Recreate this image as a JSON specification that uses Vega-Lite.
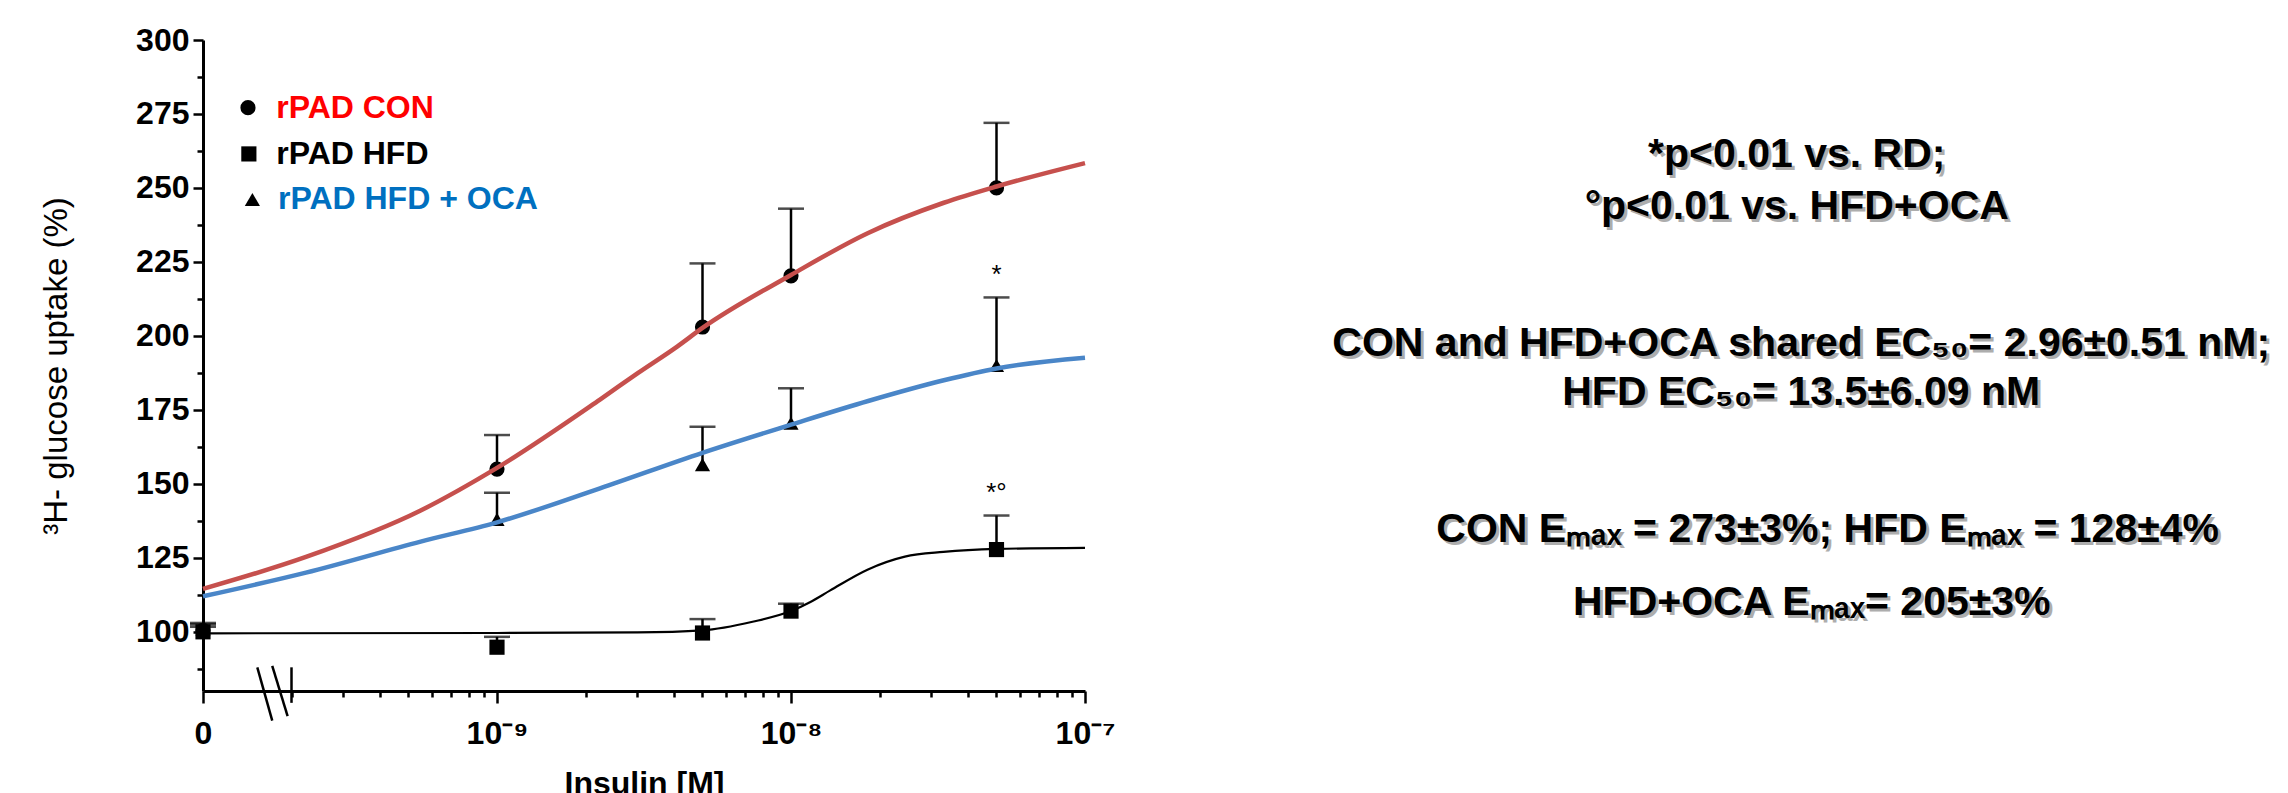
{
  "$schema": "https://vega.github.io/schema/vega-lite/v6.json",
  "width": 882,
  "height": 651,
  "autosize": {"type": "none"},
  "padding": {"left": 203, "top": 40, "right": 1203, "bottom": 102},
  "background": "white",
  "config": {"view": {"stroke": null}, "font": "Liberation Sans"},
  "datasets": {
    "points": [
      {"group": "rPAD CON", "conc": 1e-10, "mean": 100.5, "upper": 103},
      {"group": "rPAD CON", "conc": 1e-9, "mean": 155, "upper": 166.5},
      {"group": "rPAD CON", "conc": 5e-9, "mean": 203, "upper": 224.5},
      {"group": "rPAD CON", "conc": 1e-8, "mean": 220.3, "upper": 243},
      {"group": "rPAD CON", "conc": 5e-8, "mean": 250, "upper": 272},
      {"group": "rPAD HFD", "conc": 1e-10, "mean": 100, "upper": 101.7},
      {"group": "rPAD HFD", "conc": 1e-9, "mean": 94.8, "upper": 98.3},
      {"group": "rPAD HFD", "conc": 5e-9, "mean": 99.6, "upper": 104.3},
      {"group": "rPAD HFD", "conc": 1e-8, "mean": 107, "upper": 109.5},
      {"group": "rPAD HFD", "conc": 5e-8, "mean": 127.8, "upper": 139.3},
      {"group": "rPAD HFD + OCA", "conc": 1e-10, "mean": 101, "upper": 102.5},
      {"group": "rPAD HFD + OCA", "conc": 1e-9, "mean": 138, "upper": 147},
      {"group": "rPAD HFD + OCA", "conc": 5e-9, "mean": 156.5, "upper": 169.3},
      {"group": "rPAD HFD + OCA", "conc": 1e-8, "mean": 170.5, "upper": 182.3},
      {"group": "rPAD HFD + OCA", "conc": 5e-8, "mean": 190, "upper": 213}
    ],
    "curves": [
      {"group": "rPAD CON", "conc": 1e-10, "value": 114.5},
      {"group": "rPAD CON", "conc": 2.24e-10, "value": 125.3},
      {"group": "rPAD CON", "conc": 5.5e-10, "value": 141},
      {"group": "rPAD CON", "conc": 1e-9, "value": 155.4},
      {"group": "rPAD CON", "conc": 2.24e-9, "value": 178.5},
      {"group": "rPAD CON", "conc": 3.02e-9, "value": 187.5},
      {"group": "rPAD CON", "conc": 4.1e-9, "value": 196.4},
      {"group": "rPAD CON", "conc": 5e-9, "value": 202.7},
      {"group": "rPAD CON", "conc": 1e-8, "value": 220.6},
      {"group": "rPAD CON", "conc": 1.83e-8, "value": 234.8},
      {"group": "rPAD CON", "conc": 3.31e-8, "value": 245},
      {"group": "rPAD CON", "conc": 5e-8, "value": 250.5},
      {"group": "rPAD CON", "conc": 1e-7, "value": 258.4},
      {"group": "rPAD HFD + OCA", "conc": 1e-10, "value": 112},
      {"group": "rPAD HFD + OCA", "conc": 2.24e-10, "value": 120},
      {"group": "rPAD HFD + OCA", "conc": 5.5e-10, "value": 130.5},
      {"group": "rPAD HFD + OCA", "conc": 1e-9, "value": 137},
      {"group": "rPAD HFD + OCA", "conc": 2.24e-9, "value": 148.5},
      {"group": "rPAD HFD + OCA", "conc": 5e-9, "value": 160.5},
      {"group": "rPAD HFD + OCA", "conc": 1e-8, "value": 170},
      {"group": "rPAD HFD + OCA", "conc": 1.83e-8, "value": 178},
      {"group": "rPAD HFD + OCA", "conc": 3.31e-8, "value": 185},
      {"group": "rPAD HFD + OCA", "conc": 5e-8, "value": 189},
      {"group": "rPAD HFD + OCA", "conc": 1e-7, "value": 192.6},
      {"group": "rPAD HFD", "conc": 1e-10, "value": 99.5},
      {"group": "rPAD HFD", "conc": 1e-9, "value": 99.6},
      {"group": "rPAD HFD", "conc": 3e-9, "value": 99.8},
      {"group": "rPAD HFD", "conc": 5e-9, "value": 100.5},
      {"group": "rPAD HFD", "conc": 7.4e-9, "value": 103.4},
      {"group": "rPAD HFD", "conc": 1e-8, "value": 107},
      {"group": "rPAD HFD", "conc": 1.16e-8, "value": 110},
      {"group": "rPAD HFD", "conc": 1.36e-8, "value": 114},
      {"group": "rPAD HFD", "conc": 1.82e-8, "value": 121},
      {"group": "rPAD HFD", "conc": 2.44e-8, "value": 125.4},
      {"group": "rPAD HFD", "conc": 3.3e-8, "value": 127},
      {"group": "rPAD HFD", "conc": 5e-8, "value": 128},
      {"group": "rPAD HFD", "conc": 1e-7, "value": 128.4}
    ],
    "stars": [
      {"conc": 5e-8, "value": 220.5, "label": "*"},
      {"conc": 5e-8, "value": 147, "label": "*°"}
    ],
    "breaks": [
      {"conc": 1.53e-10, "conc2": 1.72e-10, "value": 88, "value2": 70},
      {"conc": 1.72e-10, "conc2": 1.94e-10, "value": 88.5, "value2": 71.5},
      {"conc": 2e-10, "conc2": 2e-10, "value": 88, "value2": 76}
    ],
    "legend": [
      {"group": "rPAD CON", "sx": 0.051, "lx": 0.083, "ty": 0.896},
      {"group": "rPAD HFD", "sx": 0.052, "lx": 0.083, "ty": 0.825},
      {"group": "rPAD HFD + OCA", "sx": 0.056, "lx": 0.085, "ty": 0.755}
    ],
    "notes": [
      {"text": "*p<0.01 vs. RD;", "tx": 1.807, "ty": 0.823},
      {"text": "°p<0.01 vs. HFD+OCA", "tx": 1.807, "ty": 0.743},
      {"text": "CON and HFD+OCA shared EC₅₀= 2.96±0.51 nM;", "tx": 1.812, "ty": 0.533},
      {"text": "HFD EC₅₀= 13.5±6.09 nM", "tx": 1.812, "ty": 0.458},
      {"text": "CON Eₘₐₓ = 273±3%; HFD Eₘₐₓ = 128±4%", "tx": 1.842, "ty": 0.247},
      {"text": "HFD+OCA Eₘₐₓ= 205±3%", "tx": 1.824, "ty": 0.135}
    ]
  },
  "resolve": {"scale": {"x": "independent", "y": "independent", "color": "independent", "shape": "independent"}},
  "layer": [
    {
      "layer": [
        {
          "data": {"name": "points"},
          "mark": {"type": "rule", "color": "black", "strokeWidth": 2.5},
          "encoding": {
            "x": {
              "field": "conc", "type": "quantitative",
              "scale": {"type": "log", "domain": [1e-10, 1e-7], "nice": false},
              "axis": {
                "title": "Insulin [M]",
                "values": [1e-10, 2e-10, 3e-10, 4e-10, 5e-10, 6e-10, 7e-10, 8e-10, 9e-10, 1e-9, 2e-9, 3e-9, 4e-9, 5e-9, 6e-9, 7e-9, 8e-9, 9e-9, 1e-8, 2e-8, 3e-8, 4e-8, 5e-8, 6e-8, 7e-8, 8e-8, 9e-8, 1e-7],
                "labelExpr": "datum.value < 1.5e-10 ? '0' : (abs(log(datum.value)/LN10 - round(log(datum.value)/LN10)) < 0.01 ? (round(log(datum.value)/LN10) == -9 ? '10⁻⁹' : (round(log(datum.value)/LN10) == -8 ? '10⁻⁸' : '10⁻⁷')) : '')",
                "tickSize": {"condition": {"test": "abs(log(datum.value)/LN10 - round(log(datum.value)/LN10)) < 0.01", "value": 12}, "value": 6},
                "grid": false,
                "domainColor": "black", "domainWidth": 3,
                "tickColor": "black", "tickWidth": 2.5,
                "labelFont": "Liberation Sans", "labelFontSize": 32, "labelFontWeight": "bold", "labelColor": "black",
                "labelPadding": 15, "labelOverlap": false, "labelFlush": false,
                "titleFont": "Liberation Sans", "titleFontSize": 32, "titleFontWeight": "bold", "titleColor": "black",
                "titlePadding": 19
              }
            },
            "y": {
              "field": "mean", "type": "quantitative",
              "scale": {"domain": [80, 300], "nice": false, "zero": false},
              "axis": {
                "title": "³H- glucose uptake (%)",
                "orient": "left",
                "values": [100, 125, 150, 175, 200, 225, 250, 275, 300],
                "tickSize": 10,
                "grid": false,
                "domainColor": "black", "domainWidth": 3,
                "tickColor": "black", "tickWidth": 2.5,
                "labelFont": "Liberation Sans", "labelFontSize": 32, "labelFontWeight": "bold", "labelColor": "black",
                "labelPadding": 4, "labelOverlap": false, "labelFlush": false,
                "titleFont": "Liberation Sans", "titleFontSize": 33, "titleFontWeight": "normal", "titleColor": "black",
                "titlePadding": 62
              }
            },
            "y2": {"field": "upper"}
          }
        },
        {
          "data": {"name": "points"},
          "mark": {"type": "tick", "orient": "horizontal", "color": "black", "size": 26, "thickness": 2.5},
          "encoding": {
            "x": {"field": "conc", "type": "quantitative"},
            "y": {"field": "upper", "type": "quantitative"}
          }
        },
        {
          "data": {"name": "breaks"},
          "mark": {"type": "rule", "color": "black", "strokeWidth": 2.5},
          "encoding": {
            "x": {"field": "conc", "type": "quantitative"},
            "x2": {"field": "conc2"},
            "y": {"field": "value", "type": "quantitative"},
            "y2": {"field": "value2"}
          }
        },
        {
          "data": {"name": "points"},
          "mark": {"type": "point", "filled": true, "color": "black", "opacity": 1, "size": 230},
          "encoding": {
            "x": {"field": "conc", "type": "quantitative"},
            "y": {"field": "mean", "type": "quantitative"},
            "shape": {
              "field": "group", "type": "nominal",
              "scale": {"domain": ["rPAD CON", "rPAD HFD", "rPAD HFD + OCA"], "range": ["circle", "square", "triangle-up"]},
              "legend": null
            }
          }
        },
        {
          "data": {"name": "curves"},
          "transform": [{"filter": "datum.group != 'rPAD HFD'"}],
          "mark": {"type": "line", "interpolate": "monotone", "strokeWidth": 4.5},
          "encoding": {
            "x": {"field": "conc", "type": "quantitative"},
            "y": {"field": "value", "type": "quantitative"},
            "color": {
              "field": "group", "type": "nominal",
              "scale": {"domain": ["rPAD CON", "rPAD HFD", "rPAD HFD + OCA"], "range": ["#C6504D", "#000000", "#4A86C8"]},
              "legend": null
            },
            "detail": {"field": "group"}
          }
        },
        {
          "data": {"name": "curves"},
          "transform": [{"filter": "datum.group == 'rPAD HFD'"}],
          "mark": {"type": "line", "interpolate": "monotone", "strokeWidth": 2.2, "color": "black"},
          "encoding": {
            "x": {"field": "conc", "type": "quantitative"},
            "y": {"field": "value", "type": "quantitative"}
          }
        },
        {
          "data": {"name": "stars"},
          "mark": {"type": "text", "font": "Liberation Sans", "fontSize": 26, "color": "black", "baseline": "middle", "align": "center"},
          "encoding": {
            "x": {"field": "conc", "type": "quantitative"},
            "y": {"field": "value", "type": "quantitative"},
            "text": {"field": "label"}
          }
        }
      ]
    },
    {
      "data": {"name": "stars"},
      "mark": {"type": "text", "opacity": 0},
      "encoding": {
        "y": {
          "field": "value", "type": "quantitative",
          "scale": {"domain": [80, 300], "nice": false, "zero": false},
          "axis": {
            "orient": "left",
            "title": null,
            "values": [87.5, 112.5, 137.5, 162.5, 187.5, 212.5, 237.5, 262.5, 287.5],
            "labels": false, "domain": false, "grid": false,
            "tickSize": 6, "tickColor": "black", "tickWidth": 2.5
          }
        },
        "text": {"field": "label"}
      }
    },
    {
      "layer": [
        {
          "data": {"name": "legend"},
          "mark": {"type": "point", "filled": true, "color": "black", "opacity": 1, "size": 230},
          "encoding": {
            "x": {"field": "sx", "type": "quantitative", "scale": {"domain": [0, 1]}, "axis": null},
            "y": {"field": "ty", "type": "quantitative", "scale": {"domain": [0, 1]}, "axis": null},
            "shape": {
              "field": "group", "type": "nominal",
              "scale": {"domain": ["rPAD CON", "rPAD HFD", "rPAD HFD + OCA"], "range": ["circle", "square", "triangle-up"]},
              "legend": null
            }
          }
        },
        {
          "data": {"name": "legend"},
          "mark": {"type": "text", "font": "Liberation Sans", "fontSize": 32, "fontWeight": "bold", "align": "left", "baseline": "middle"},
          "encoding": {
            "x": {"field": "lx", "type": "quantitative", "scale": {"domain": [0, 1]}, "axis": null},
            "y": {"field": "ty", "type": "quantitative", "scale": {"domain": [0, 1]}, "axis": null},
            "text": {"field": "group"},
            "color": {
              "field": "group", "type": "nominal",
              "scale": {"domain": ["rPAD CON", "rPAD HFD", "rPAD HFD + OCA"], "range": ["#FF0000", "#000000", "#0070C0"]},
              "legend": null
            }
          }
        },
        {
          "data": {"name": "notes"},
          "mark": {"type": "text", "font": "Liberation Sans", "fontSize": 41, "fontWeight": "bold", "color": "#777777", "opacity": 0.6, "dx": 3, "dy": 3, "align": "center", "baseline": "middle"},
          "encoding": {
            "x": {"field": "tx", "type": "quantitative", "scale": {"domain": [0, 1]}, "axis": null},
            "y": {"field": "ty", "type": "quantitative", "scale": {"domain": [0, 1]}, "axis": null},
            "text": {"field": "text"}
          }
        },
        {
          "data": {"name": "notes"},
          "mark": {"type": "text", "font": "Liberation Sans", "fontSize": 41, "fontWeight": "bold", "color": "black", "align": "center", "baseline": "middle"},
          "encoding": {
            "x": {"field": "tx", "type": "quantitative", "scale": {"domain": [0, 1]}, "axis": null},
            "y": {"field": "ty", "type": "quantitative", "scale": {"domain": [0, 1]}, "axis": null},
            "text": {"field": "text"}
          }
        }
      ]
    }
  ]
}
